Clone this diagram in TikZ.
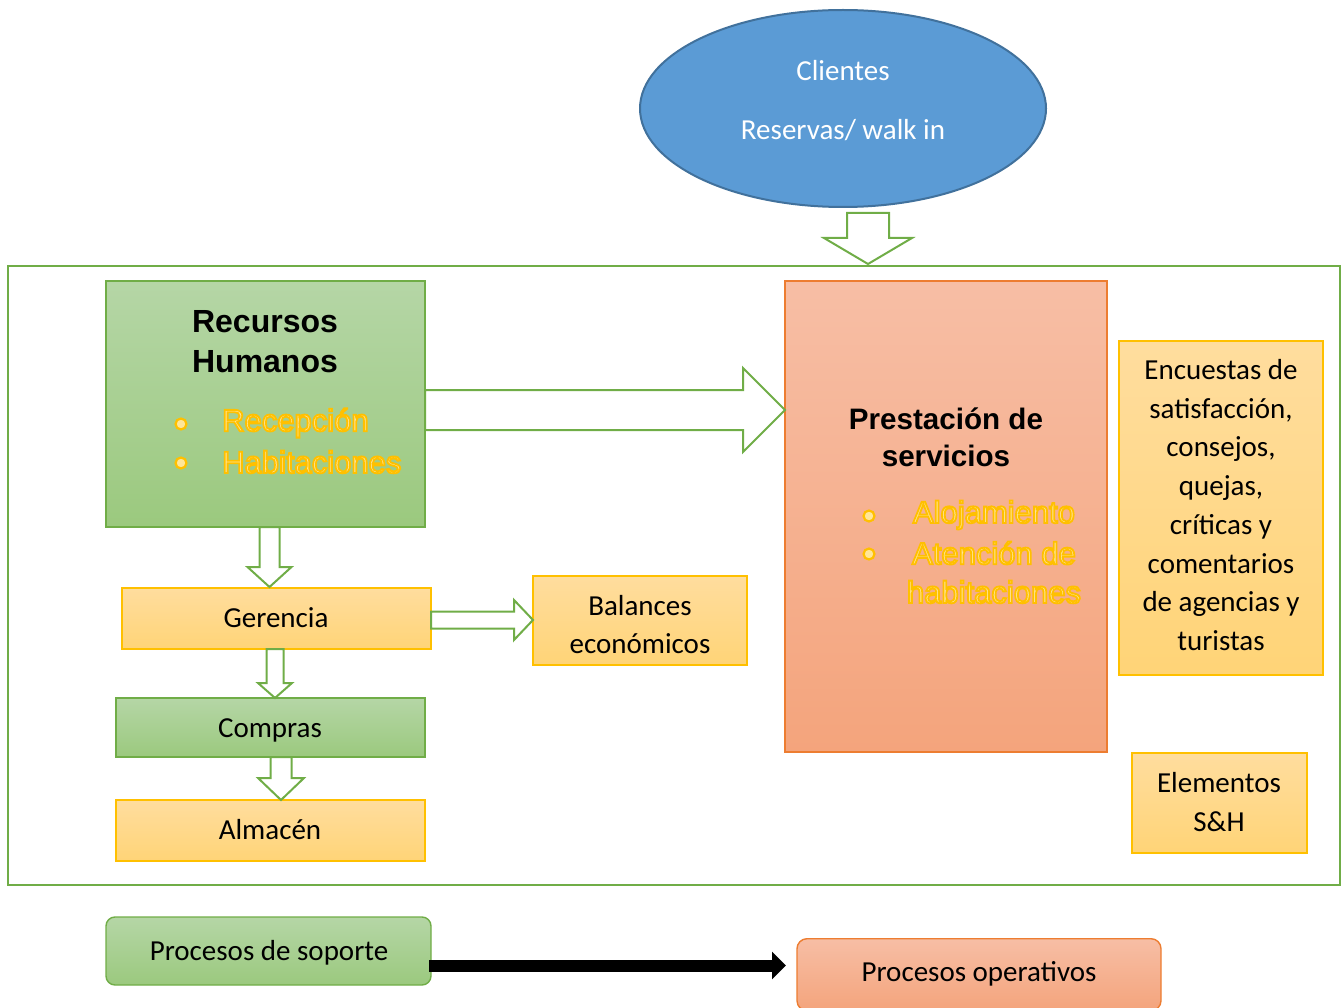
\documentclass[tikz,border=0pt]{standalone}
\usepackage{fontspec}
\setmainfont{Carlito}
\newfontfamily\arialfont{Liberation Sans}
\usetikzlibrary{arrows.meta}

\definecolor{grnline}{HTML}{70AD47}
\definecolor{grntop}{HTML}{B5D6A6}
\definecolor{grnbot}{HTML}{9BC97E}
\definecolor{orgline}{HTML}{ED7D31}
\definecolor{orgtop}{HTML}{F7BEA5}
\definecolor{orgbot}{HTML}{F4A47C}
\definecolor{yelline}{HTML}{FFC000}
\definecolor{yeltop}{HTML}{FFDD9E}
\definecolor{yelbot}{HTML}{FFD477}
\definecolor{bluefill}{HTML}{5B9BD5}
\definecolor{blueline}{HTML}{41719C}
\definecolor{bullfill}{HTML}{FFE699}

% outlined text: light fill, stroked in amber (PDF text render mode 2)
\newcommand{\glow}[1]{{\color{bullfill}%
  \special{pdf:literal direct 1 0.753 0 RG 2 Tr 1.8 w}#1%
  \special{pdf:literal direct 0 Tr}}}
\newcommand{\bodyfont}{\fontsize{29}{38.7}\selectfont}
\newcommand{\headfont}{\arialfont\bfseries\fontsize{32}{40}\selectfont}
\newcommand{\prheadfont}{\arialfont\bfseries\fontsize{29.6}{37}\selectfont}
\newcommand{\itemfont}{\arialfont\fontsize{31}{38.5}\selectfont}

% hollow block arrows: centre, start, tip, shaft half width, head half width, head length
\newcommand{\blockdown}[6]{%
  \draw[blockarrow] (#1-#4,#2) -- (#1+#4,#2) -- (#1+#4,#3-#6) -- (#1+#5,#3-#6)
    -- (#1,#3) -- (#1-#5,#3-#6) -- (#1-#4,#3-#6) -- cycle;}
\newcommand{\blockright}[6]{%
  \draw[blockarrow] (#2,#1-#4) -- (#2,#1+#4) -- (#3-#6,#1+#4) -- (#3-#6,#1+#5)
    -- (#3,#1) -- (#3-#6,#1-#5) -- (#3-#6,#1-#4) -- cycle;}

\tikzset{
  greenbox/.style={draw=grnline, line width=1.4pt, top color=grntop, bottom color=grnbot,
    inner sep=0pt, align=center, font=\bodyfont},
  orangebox/.style={draw=orgline, line width=1.4pt, top color=orgtop, bottom color=orgbot,
    inner sep=0pt, align=center, font=\bodyfont},
  yellowbox/.style={draw=yelline, line width=1.4pt, top color=yeltop, bottom color=yelbot,
    inner sep=0pt, align=center, font=\bodyfont},
  blockarrow/.style={draw=grnline, line width=2pt, fill=white, line join=miter},
  bulletdot/.style={circle, draw=yelline, fill=bullfill, line width=2.2pt,
    minimum size=11pt, inner sep=0pt},
  plain/.style={inner sep=0pt, align=center, font=\bodyfont},
  itemtext/.style={inner sep=0pt, font=\itemfont}
}

\begin{document}
\begin{tikzpicture}[x=1pt, y=-1pt]
\useasboundingbox (0,0) rectangle (1344,1008);
\clip (0,0) rectangle (1344,1008);

% customer ellipse
\draw[draw=blueline, fill=bluefill, line width=2pt] (843,108.5) ellipse [x radius=203, y radius=98.5];
\node[plain, text=white] (clientes) at (843,71) {Clientes};
\node[plain, text=white] (reservas) at (843,130) {Reservas/ walk in};

% hotel frame
\draw[grnline, line width=2pt] (8,266) rectangle (1340,885);

% inflow from customers
\blockdown{868}{213}{264}{21}{44}{26}

% support process boxes
\node[greenbox, minimum width=319, minimum height=246] (rh) at (265.5,404) {};
\node[plain, font=\headfont] (rhtitle) at (265,342) {Recursos\\Humanos};
\node[bulletdot] (rhb1) at (181,424) {};
\node[bulletdot] (rhb2) at (181,463) {};
\node[itemtext, anchor=west] (rht1) at (222,423) {\glow{Recepción}};
\node[itemtext, anchor=west] (rht2) at (222,462) {\glow{Habitaciones}};

\node[yellowbox, minimum width=309, minimum height=61] (ger) at (276.5,618.5) {};
\node[plain] (gertext) at (276,618) {Gerencia};
\node[yellowbox, minimum width=214, minimum height=89] (bal) at (640,620.5) {};
\node[plain] (baltext) at (640,624.5) {Balances\\económicos};
\node[greenbox, minimum width=309, minimum height=59] (comp) at (270.5,727.5) {};
\node[plain] (comptext) at (270,730) {Compras};
\node[yellowbox, minimum width=309, minimum height=61] (alm) at (270.5,830.5) {};
\node[plain] (almtext) at (270,830) {Almacén};

% operating process box
\node[orangebox, minimum width=322, minimum height=471] (prest) at (946,516.5) {};
\node[plain, font=\prheadfont] (prtitle) at (946,437.5) {Prestación de\\servicios};
\node[bulletdot] (prb1) at (869,516) {};
\node[bulletdot] (prb2) at (869,554) {};
\node[itemtext] (prt1) at (994,515) {\glow{Alojamiento}};
\node[itemtext] (prt2) at (994,553) {\glow{Atención de}};
\node[itemtext] (prt3) at (994,592) {\glow{habitaciones}};

\node[yellowbox, minimum width=204, minimum height=334] (enc) at (1221,508) {};
\node[plain] (enctext) at (1221,505)
  {Encuestas de\\satisfacción,\\consejos,\\quejas,\\críticas y\\comentarios\\de agencias y\\turistas};
\node[yellowbox, minimum width=175, minimum height=100] (elem) at (1219.5,803) {};
\node[plain] (elemtext) at (1219,802) {Elementos\\S\&H};

% internal flows
\blockright{410}{425}{785}{20}{42}{42}
\blockdown{269.5}{527}{587}{10}{22}{20}
\blockright{620}{431}{533}{8.5}{20}{19}
\blockdown{275}{649}{698}{8.5}{17}{15}
\blockdown{281}{757}{800}{10.5}{23}{22}

% legend
\node[greenbox, rounded corners=9pt, minimum width=325, minimum height=68] (sop) at (268.5,951) {};
\node[plain] (soptext) at (269,953) {Procesos de soporte};
\node[orangebox, rounded corners=10pt, minimum width=364, minimum height=72, anchor=north] (oper) at (979,938) {};
\node[plain] (opertext) at (979,974) {Procesos operativos};
\coordinate (arrowstart) at (429,965.5);
\coordinate (arrowend) at (786,965.5);
\draw[line width=12pt, -{Triangle[length=14pt, width=27pt]}] (arrowstart) -- (arrowend);
\end{tikzpicture}
\end{document}
